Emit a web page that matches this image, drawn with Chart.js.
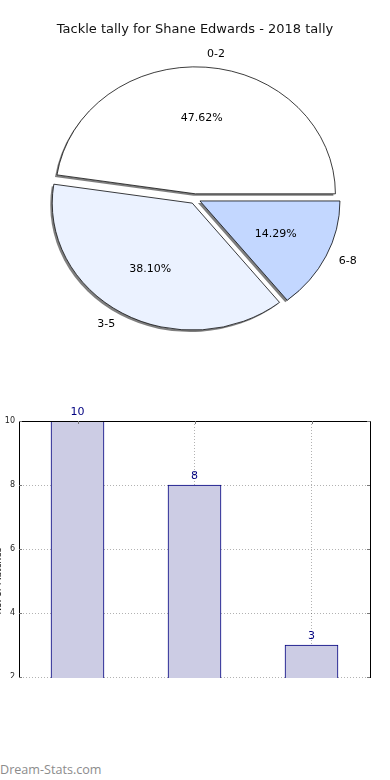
<!DOCTYPE html>
<html>
<head>
<meta charset="utf-8">
<script src="https://cdn.jsdelivr.net/npm/chart.js@4.4.0/dist/chart.umd.min.js"></script>
<style>
  html, body { margin: 0; padding: 0; background: #fff; }
  body { width: 390px; height: 780px; overflow: hidden; position: relative; font-family: 'DejaVu Sans', sans-serif; }
  #pieBox { position: absolute; left: 0; top: 0; width: 390px; height: 360px; }
  /* bar chart is cropped at the bottom like the original image */
  #barBox { position: absolute; left: -7px; top: 395px; width: 397px; height: 283px; overflow: hidden; }
  .brand { position: absolute; left: 0; top: 761px; font: 12.6px 'Open Sans', sans-serif; color: #8c8c8c; }
</style>
</head>
<body>
<div id="pieBox"><canvas id="pie" width="390" height="360"></canvas></div>
<div id="barBox"><canvas id="bar" width="397" height="355"></canvas></div>
<div class="brand">Dream-Stats.com</div>
<script>
// Tackle tally data
const tallyLabels = ['0-2', '3-5', '6-8'];
const tallyCounts = [10, 8, 3];
const yTickStep = 2;
const yMin = 0;
const yMax = 10;

const sliceColors = ['#ffffff', '#ebf2ff', '#c3d7ff'];
const explode = 5.5;      // px each wedge is pulled out
const squash = 0.907;     // original pie is drawn as an ellipse

const total = tallyCounts.reduce((a, b) => a + b, 0);

// matplotlib style pie: ellipse, exploded wedges, shadow, labels outside
const pieStyle = {
  id: 'pieStyle',
  beforeDatasetsDraw(chart) {
    const ctx = chart.ctx;
    const meta = chart.getDatasetMeta(0);
    const cx = meta.data[0].x, cy = meta.data[0].y;
    meta.data.forEach(arc => {
      if (arc._exploded) return;
      const draw = arc.draw;
      arc.draw = function(c) {
        const mid = (this.startAngle + this.endAngle) / 2;
        c.save();
        c.translate(Math.cos(mid) * explode, Math.sin(mid) * explode);
        // shadow pass, fill only
        const ghost = Object.create(this);
        ghost.options = Object.assign({}, this.options, { borderWidth: 0 });
        c.save();
        c.shadowColor = 'rgba(0,0,0,0.5)';
        c.shadowOffsetX = -2;
        c.shadowOffsetY = 2;
        draw.call(ghost, c);
        c.restore();
        draw.call(this, c);
        c.restore();
      };
      arc._exploded = true;
    });
    ctx.save();
    ctx.translate(cx, cy);
    ctx.scale(1, squash);
    ctx.translate(-cx, -cy);
  },
  afterDatasetsDraw(chart) {
    const ctx = chart.ctx;
    ctx.restore();
    const meta = chart.getDatasetMeta(0);
    const values = chart.data.datasets[0].data;
    const names = chart.data.labels;
    ctx.save();
    ctx.font = '11px "DejaVu Sans"';
    ctx.fillStyle = '#000';
    ctx.textBaseline = 'middle';
    meta.data.forEach((arc, i) => {
      const mid = (arc.startAngle + arc.endAngle) / 2;
      const r = arc.outerRadius;
      const ex = arc.x + Math.cos(mid) * explode;
      const ey = arc.y + Math.sin(mid) * explode;
      const toScreen = (px, py) => [px, arc.y + (py - arc.y) * squash];
      const [lx, ly] = toScreen(ex + Math.cos(mid) * r * 1.1, ey + Math.sin(mid) * r * 1.1);
      ctx.textAlign = Math.cos(mid) > 0 ? 'left' : 'right';
      ctx.fillText(names[i], lx, ly);
      const [px, py] = toScreen(ex + Math.cos(mid) * r * 0.6, ey + Math.sin(mid) * r * 0.6);
      ctx.textAlign = 'center';
      ctx.fillText((values[i] / total * 100).toFixed(2) + '%', px, py);
    });
    ctx.restore();
  }
};

new Chart(document.getElementById('pie'), {
  type: 'pie',
  data: {
    // reversed so the clockwise drawing matches the counter-clockwise original
    labels: tallyLabels.slice().reverse(),
    datasets: [{
      data: tallyCounts.slice().reverse(),
      backgroundColor: sliceColors.slice().reverse(),
      borderColor: '#000',
      borderWidth: 0.8,
      radius: 140
    }]
  },
  options: {
    responsive: false,
    animation: false,
    rotation: 90,
    layout: { padding: 0 },
    plugins: {
      legend: { display: false },
      tooltip: { enabled: false },
      title: {
        display: true,
        text: 'Tackle tally for Shane Edwards - 2018 tally',
        color: '#111',
        font: { family: 'DejaVu Sans', size: 13, weight: 'normal' },
        padding: { top: 22, bottom: 0 }
      }
    }
  },
  plugins: [pieStyle]
});

// top/right frame, inner tick marks and value labels
const barStyle = {
  id: 'barStyle',
  afterDatasetsDraw(chart) {
    const ctx = chart.ctx;
    const meta = chart.getDatasetMeta(0);
    const values = chart.data.datasets[0].data;
    ctx.save();
    ctx.font = '11px "DejaVu Sans"';
    ctx.fillStyle = '#000080';
    ctx.textAlign = 'center';
    ctx.textBaseline = 'bottom';
    meta.data.forEach((bar, i) => ctx.fillText(String(values[i]), bar.x, bar.y - 3));
    ctx.restore();
  },
  afterDraw(chart) {
    const { ctx, chartArea: a, scales } = chart;
    ctx.save();
    ctx.strokeStyle = '#000';
    ctx.lineWidth = 1;
    ctx.beginPath();
    ctx.moveTo(a.left, a.top + 0.5);
    ctx.lineTo(a.right + 0.5, a.top + 0.5);
    ctx.lineTo(a.right + 0.5, a.bottom);
    ctx.stroke();
    ctx.strokeStyle = '#777';
    ctx.beginPath();
    scales.y.ticks.forEach(t => {
      const y = Math.round(scales.y.getPixelForValue(t.value)) + 0.5;
      ctx.moveTo(a.left, y); ctx.lineTo(a.left + 3, y);
      ctx.moveTo(a.right, y); ctx.lineTo(a.right - 3, y);
    });
    scales.x.ticks.forEach((t, i) => {
      const x = Math.round(scales.x.getPixelForTick(i)) + 0.5;
      ctx.moveTo(x, a.top); ctx.lineTo(x, a.top + 3);
    });
    ctx.stroke();
    ctx.restore();
  }
};

new Chart(document.getElementById('bar'), {
  type: 'bar',
  data: {
    labels: tallyLabels,
    datasets: [{
      data: tallyCounts,
      backgroundColor: '#ccccE4',
      borderColor: '#000080',
      borderWidth: 1,
      barThickness: 53
    }]
  },
  options: {
    responsive: false,
    animation: false,
    layout: { padding: { top: 26, right: 20, bottom: 4, left: 0 } },
    plugins: { legend: { display: false }, tooltip: { enabled: false } },
    scales: {
      x: {
        z: 1,
        offset: true,
        grid: { offset: false, color: 'rgba(0,0,0,0.3)', lineWidth: 1, drawTicks: false },
        border: { display: false, dash: [1, 2] },
        ticks: { display: false }
      },
      y: {
        z: 1,
        min: yMin,
        max: yMax,
        ticks: { stepSize: yTickStep, color: '#222', padding: 4, font: { family: 'DejaVu Sans', size: 8 } },
        grid: { color: 'rgba(0,0,0,0.3)', lineWidth: 1, drawTicks: false },
        border: { color: '#000', width: 1, dash: [1, 2] },
        title: {
          display: true,
          text: 'No. of Matches',
          color: '#000',
          padding: 0,
          font: { family: 'DejaVu Sans', size: 9 }
        },
        afterFit(scale) { scale.width = 26; }
      }
    }
  },
  plugins: [barStyle]
});
</script>
</body>
</html>
